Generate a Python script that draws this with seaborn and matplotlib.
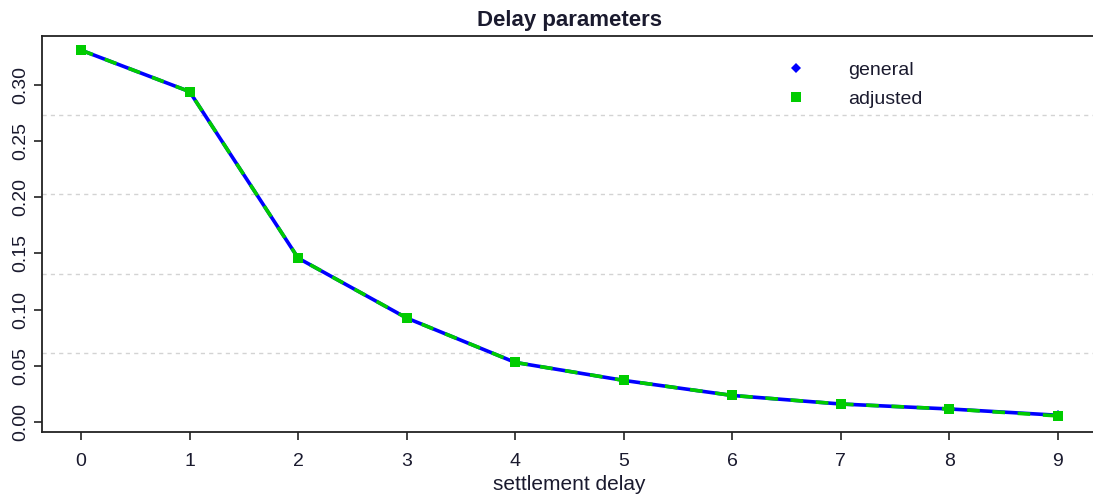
import matplotlib
matplotlib.use("Agg")
import matplotlib.pyplot as plt
from matplotlib.lines import Line2D
import seaborn as sns
import pandas as pd
import numpy as np

# ---- data ----
delay = [0, 1, 2, 3, 4, 5, 6, 7, 8, 9]
general = [0.3308, 0.2939, 0.1458, 0.0925, 0.0530, 0.0370, 0.0236, 0.0160, 0.0116, 0.0060]
adjusted = [0.3308, 0.2939, 0.1458, 0.0925, 0.0530, 0.0370, 0.0236, 0.0160, 0.0116, 0.0054]
series_names = ["general", "adjusted"]
x_ticks = [0, 1, 2, 3, 4, 5, 6, 7, 8, 9]
y_ticks = [0.00, 0.05, 0.10, 0.15, 0.20, 0.25, 0.30]
y_tick_labels = ["0.00", "0.05", "0.10", "0.15", "0.20", "0.25", "0.30"]

df = pd.DataFrame({
    "settlement delay": delay * 2,
    "value": general + adjusted,
    "series": [series_names[0]] * len(delay) + [series_names[1]] * len(delay),
})

sns.set_style("white")
plt.rcParams["font.family"] = ["Liberation Sans", "DejaVu Sans"]

W, H = 1093, 497
fig = plt.figure(figsize=(W / 100, H / 100), dpi=100)
ax = fig.add_axes([42 / W, 1 - 432 / H, (1097 - 42) / W, (432 - 36) / H])

xlim = (-0.36, 9.36)
ylim = (-0.0089, 0.3434)
ax.set_xlim(*xlim)
ax.set_ylim(*ylim)

# R-style grid: ny=5 equally spaced lines across the plot region
for k in range(1, 5):
    yv = ylim[0] + k * (ylim[1] - ylim[0]) / 5
    ax.axhline(yv, color="#d3d3d3", lw=1.0, ls=(0, (3, 3)), zorder=1)

blue = "#0000ff"
green = "#00cc00"

sns.lineplot(data=df[df["series"] == "general"], x="settlement delay", y="value",
             ax=ax, color=blue, lw=2.6, marker="D", markersize=5,
             markeredgewidth=0, legend=False, zorder=3)
sns.lineplot(data=df[df["series"] == "adjusted"], x="settlement delay", y="value",
             ax=ax, color=green, lw=2.6, marker="s", markersize=6.5,
             markeredgewidth=0, legend=False, zorder=4, dashes=False)
ax.lines[-1].set_linestyle((0, (3.5, 3.5)))

ax.set_xticks(x_ticks)
ax.set_xticklabels([str(v) for v in x_ticks])
ax.set_yticks(y_ticks)
ax.set_yticklabels(y_tick_labels, rotation=90, va="center")

for sp in ax.spines.values():
    sp.set_color("#222222")
    sp.set_linewidth(1.3)

ax.tick_params(axis="both", direction="out", length=6, width=1.2, color="#222222",
               labelsize=14, labelcolor="#1a1a2e", left=True, bottom=True)
ax.tick_params(axis="x", pad=9)
ax.tick_params(axis="y", pad=3)

ax.set_xlabel("settlement delay", fontsize=15, color="#1a1a2e", labelpad=4)
ax.set_ylabel("")
ax.set_title("Delay parameters", fontsize=16, fontweight="bold", color="#1a1a2e", pad=7)

handles = [
    Line2D([], [], color=blue, marker="D", markersize=5, linestyle="none", markeredgewidth=0),
    Line2D([], [], color=green, marker="s", markersize=6.5, linestyle="none", markeredgewidth=0),
]
ax.legend(handles, series_names, loc="upper left", bbox_to_anchor=(786 / W, 1 - 61 / H),
          bbox_transform=fig.transFigure, frameon=False, fontsize=14,
          handlelength=1.0, handletextpad=2.2, labelspacing=0.58,
          borderpad=0, borderaxespad=0, labelcolor="#1a1a2e")

fig.savefig("out.png", dpi=100)
